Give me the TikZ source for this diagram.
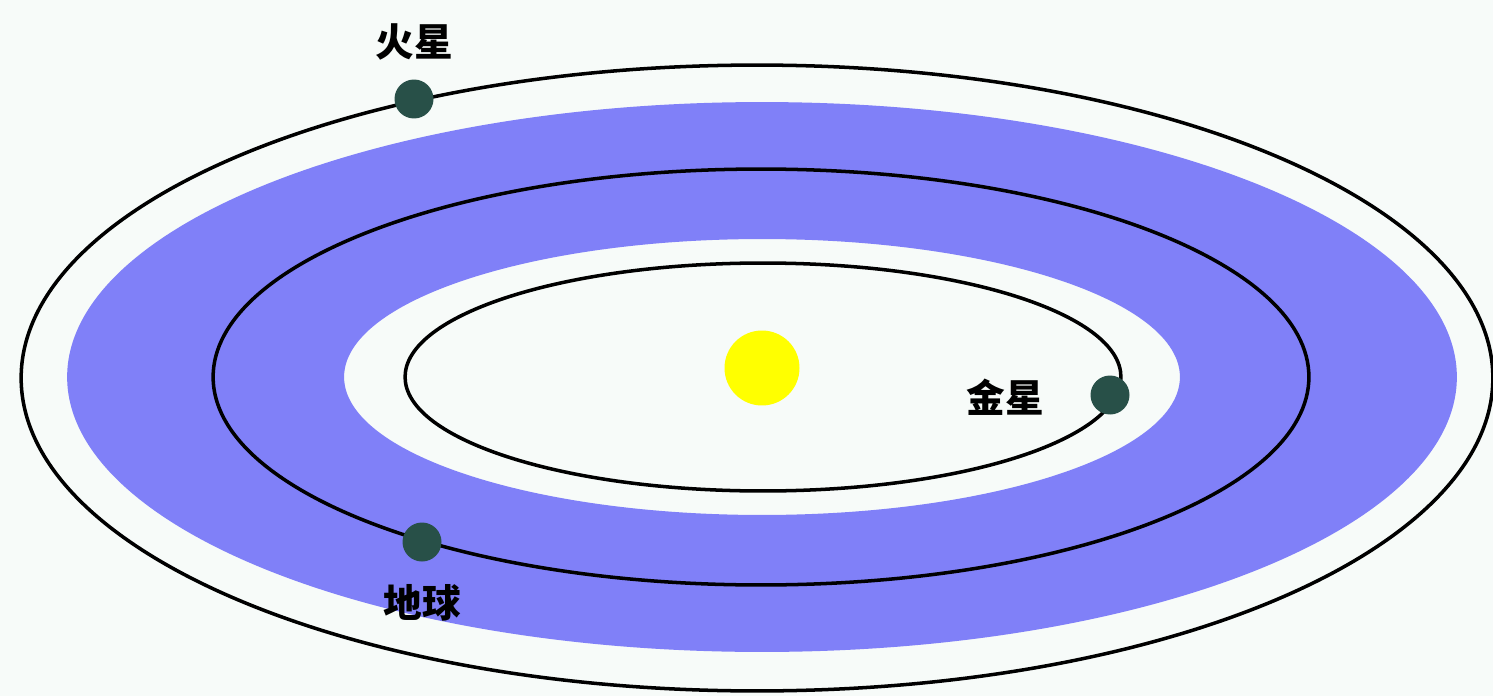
\documentclass[tikz,border=0pt]{standalone}
\usepackage{fontspec}
\newfontfamily\cjk{Noto Sans CJK SC}
\usepackage{tikz}
\definecolor{bgcolor}{RGB}{247,251,249}
\definecolor{band}{RGB}{128,128,248}
\definecolor{planet}{RGB}{40,80,72}
\definecolor{sun}{RGB}{255,255,0}
\tikzstyle{orbit} = [draw=black,line width=2pt]
\tikzstyle{planet} = [circle,fill=planet,minimum size=0.78cm,inner sep=0pt]
\tikzstyle{label} = [font=\cjk\bfseries\fontsize{22}{26}\selectfont,text=black,inner sep=0pt]

\begin{document}
\begin{tikzpicture}[x=0.02cm,y=-0.02cm]
		\fill[bgcolor](0,0)rectangle(1493,696);
		\useasboundingbox(0,0)rectangle(1493,696);

		\fill[band,even odd rule](762,377)ellipse[x radius=13.9cm,y radius=5.5cm]
			(762,377)ellipse[x radius=8.36cm,y radius=2.76cm];

		\draw[orbit](757,378)ellipse[x radius=14.72cm,y radius=6.26cm];
		\draw[orbit](761,377)ellipse[x radius=10.96cm,y radius=4.16cm];
		\draw[orbit](763,377)ellipse[x radius=7.16cm,y radius=2.28cm];

		\node [circle,fill=sun,minimum size=1.5cm,inner sep=0pt](sun) at (762,368){};
		\node [planet](mars) at (414,99){};
		\node [planet](venus) at (1110,395){};
		\node [planet](earth) at (422,542){};

		\node [label,above of=mars,node distance=1.14cm](marslabel){火星};
		\node [label,left of=venus,node distance=2.1cm,yshift=-.04cm](venuslabel){金星};
		\node [label,below of=earth,node distance=1.22cm](earthlabel){地球};
		\end{tikzpicture}
\end{document}
